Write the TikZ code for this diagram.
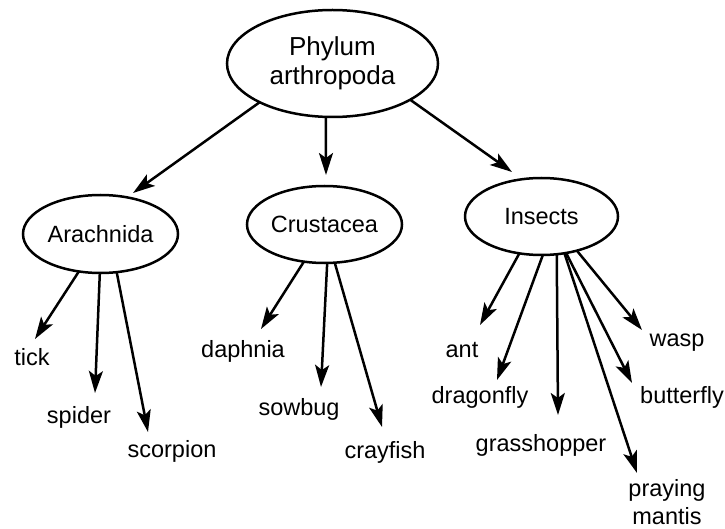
\documentclass[tikz,border=0pt]{standalone}
\usepackage{fontspec}
\setmainfont{Liberation Sans}
\usetikzlibrary{arrows.meta,shapes.geometric}
\begin{document}
\begin{tikzpicture}[x=1pt,y=-1pt,
  every node/.style={inner sep=0pt,outer sep=0pt},
  taxon/.style={draw,ellipse,line width=2.5pt,font=\fontsize{23.5}{29}\selectfont},
  leaf/.style={anchor=base,font=\fontsize{23.5}{29}\selectfont},
  link/.style={line width=2.5pt,-{Stealth[length=22pt,width=14pt,inset=5pt]}}]
\useasboundingbox (0,0) rectangle (725,529);
% ellipses
\node[taxon,minimum width=211pt,minimum height=107pt,align=center,
      font=\fontsize{26}{29.5}\selectfont] (phy) at (332.5,63.5) {Phylum\\arthropoda};
\node[taxon,minimum width=155pt,minimum height=78pt] (ara) at (100.5,234) {Arachnida};
\node[taxon,minimum width=155pt,minimum height=77pt] (cru) at (324.5,224.5) {Crustacea};
\node[taxon,minimum width=153pt,minimum height=77pt] (ins) at (541.5,216.5) {Insects};
% leaves
\node[leaf] (tick) at (32,365) {tick};
\node[leaf] (spider) at (79,423) {spider};
\node[leaf] (scorpion) at (172,457) {scorpion};
\node[leaf] (daphnia) at (243,357) {daphnia};
\node[leaf] (sowbug) at (299,415) {sowbug};
\node[leaf] (crayfish) at (385,458) {crayfish};
\node[leaf] (ant) at (462,357) {ant};
\node[leaf] (dragonfly) at (480,403) {dragonfly};
\node[leaf] (grasshopper) at (541,451) {grasshopper};
\node[leaf] (wasp) at (677,346) {wasp};
\node[leaf] (butterfly) at (682,403) {butterfly};
\node[leaf,align=center,font=\fontsize{23.5}{28}\selectfont] (mantis) at (667,524) {praying\\mantis};
% arrow tips
\coordinate (tAra) at (133,193);
\coordinate (tCru) at (326,175);
\coordinate (tIns) at (512,172);
\coordinate (tTick) at (35,339);
\coordinate (tSpider) at (95,393);
\coordinate (tScorpion) at (148,432);
\coordinate (tDaphnia) at (261,329);
\coordinate (tSowbug) at (321,387);
\coordinate (tCrayfish) at (382,427);
\coordinate (tAnt) at (480,325);
\coordinate (tDragonfly) at (497,380);
\coordinate (tGrass) at (558,415);
\coordinate (tMantis) at (637,473);
\coordinate (tButterfly) at (632,383);
\coordinate (tWasp) at (642,330);
% connectors
\draw[link] (phy.-152.7) -- (tAra);
\draw[link] (phy.-97) -- (tCru);
\draw[link] (phy.-25.2) -- (tIns);
\draw[link] (ara.-120.4) -- (tTick);
\draw[link] (ara.-91) -- (tSpider);
\draw[link] (ara.-67.6) -- (tScorpion);
\draw[link] (cru.-119.7) -- (tDaphnia);
\draw[link] (cru.-86.5) -- (tSowbug);
\draw[link] (cru.-75.5) -- (tCrayfish);
\draw[link] (ins.-121.8) -- (tAnt);
\draw[link] (ins.-88) -- (tDragonfly);
\draw[link] (ins.-68.3) -- (tGrass);
\draw[link] (ins.-58.4) -- (tMantis);
\draw[link] (ins.-56.8) -- (tButterfly);
\draw[link] (ins.-44) -- (tWasp);
\end{tikzpicture}
\end{document}
